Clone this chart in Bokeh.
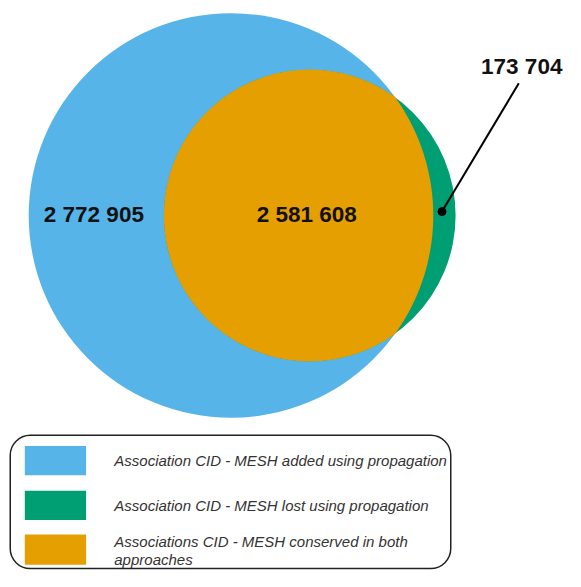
import numpy as np
from bokeh.plotting import figure
from bokeh.models import Range1d, BoxAnnotation, ColumnDataSource
from bokeh.core.properties import value
from bokeh.embed import file_html
from bokeh.resources import INLINE

# ---- data ----
set_names = ["added", "conserved", "lost"]
set_counts = [2772905, 2581608, 173704]
count_labels = ["2 772 905", "2 581 608", "173 704"]
legend_labels = [
    "Association CID - MESH added using propagation",
    "Association CID - MESH lost using propagation",
    "Associations CID - MESH conserved in both",
    "approaches",
]
colors = {"added": "#56B4E9", "lost": "#009E73", "conserved": "#E69F00"}

# ---- figure (data coords == reference pixel coords, slightly scaled to fit) ----
W, H = 565, 571
p = figure(width=W, height=H, x_range=Range1d(0, 581), y_range=Range1d(587, 0),
           output_backend="svg", toolbar_location=None, min_border=0)
p.axis.visible = False
p.grid.visible = False
p.outline_line_color = None
p.background_fill_color = "white"
p.border_fill_color = "white"

# geometry of circles
bx, by, br = 237.0, 221.0, 208.0   # new set (blue)
gx, gy, gr = 318.0, 221.0, 150.0   # old set (green)

p.circle(x=[bx], y=[by], radius=br, fill_color=colors["added"], line_color=None)
p.circle(x=[gx], y=[gy], radius=gr, fill_color=colors["lost"], line_color=None)

# intersection lens (orange)
d = gx - bx
a = (br**2 - gr**2 + d**2) / (2 * d)
hh = np.sqrt(br**2 - a**2)
ix = bx + a
t_b = np.arctan2(hh, a)
t_g = np.arctan2(hh, ix - gx)
ang_b = np.linspace(-t_b, t_b, 200)
ang_g = np.linspace(t_g, 2 * np.pi - t_g, 300)
lx = np.concatenate([bx + br * np.cos(ang_b), gx + gr * np.cos(ang_g)])
ly = np.concatenate([by + br * np.sin(ang_b), gy + gr * np.sin(ang_g)])
p.patch(lx, ly, fill_color=colors["conserved"], line_color=None)

# count labels
src = ColumnDataSource(dict(x=[96, 315, 536], y=[220, 220, 68], t=count_labels))
p.text(x="x", y="y", text="t", source=src, text_align="center", text_baseline="middle",
       text_font=value("Liberation Sans"), text_font_style="bold", text_font_size="22.5px",
       text_color="#111111")

# leader line for lost count
p.line(x=[454, 533], y=[217, 85], line_color="black", line_width=2)
p.scatter(x=[454], y=[217], size=8, marker="circle", fill_color="black", line_color="black")

# legend box
p.add_layout(BoxAnnotation(left=10, right=463, top=447, bottom=584, fill_alpha=0,
                           line_color="#222222", line_alpha=1.0, line_width=1.5,
                           border_radius=20))
sw_top = [458, 504, 549]
sw_bot = [488, 534, 580]
p.quad(left=[25] * 3, right=[88] * 3, top=sw_top, bottom=sw_bot,
       fill_color=[colors["added"], colors["lost"], colors["conserved"]], line_color=None)
lsrc = ColumnDataSource(dict(x=[117] * 4, y=[473, 519, 556, 575], t=legend_labels))
p.text(x="x", y="y", text="t", source=lsrc, text_align="left", text_baseline="middle",
       text_font=value("Liberation Sans"), text_font_style="italic", text_font_size="15px",
       text_color="#333333")

open("out.html", "w").write(file_html(p, INLINE))
